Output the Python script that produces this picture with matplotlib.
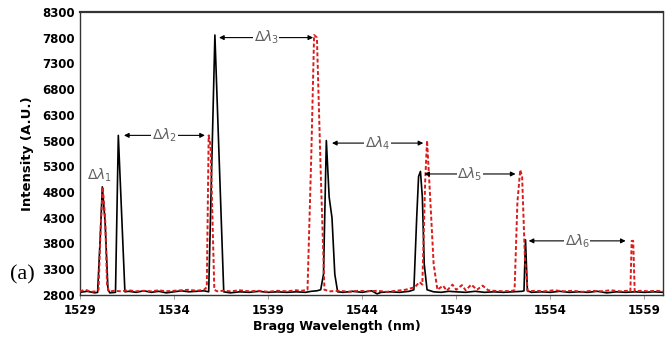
import matplotlib
matplotlib.use("Agg")
import matplotlib.pyplot as plt

# black (solid) spectrum
black_wl = [1529.0, 1529.4, 1529.8, 1529.95, 1530.1, 1530.2, 1530.35, 1530.5, 1530.6,
            1530.9, 1531.05, 1531.4,
            1531.6, 1532.0, 1532.4, 1532.8, 1533.2, 1533.6, 1534.0, 1534.4, 1534.8,
            1535.2, 1535.6, 1535.85, 1536.18, 1536.65,
            1537.0, 1537.5, 1538.0, 1538.5, 1539.0, 1539.5, 1540.0, 1540.5, 1541.0,
            1541.3, 1541.6, 1541.8, 1541.95, 1542.1, 1542.25, 1542.4, 1542.55, 1542.7,
            1543.0, 1543.5, 1544.0, 1544.5, 1544.8, 1545.0, 1545.5, 1546.0, 1546.5,
            1546.75, 1546.9, 1547.0, 1547.1, 1547.2, 1547.3, 1547.45,
            1547.8, 1548.2, 1548.6, 1549.0, 1549.5, 1550.0, 1550.5, 1551.0, 1551.5,
            1552.0, 1552.5, 1552.6, 1552.68, 1552.78,
            1553.0, 1553.5, 1554.0, 1554.5, 1555.0, 1555.5, 1556.0, 1556.5, 1557.0,
            1557.5, 1558.0, 1558.5, 1559.0, 1559.5, 1560.0]
black_int = [2850, 2870, 2840, 2850, 4000, 4900, 4200, 2900, 2840,
             2850, 5900, 2860,
             2870, 2850, 2880, 2850, 2870, 2840, 2860, 2880, 2860,
             2870, 2880, 2860, 7850, 2860,
             2840, 2860, 2850, 2870, 2850, 2860, 2850, 2860, 2850,
             2870, 2880, 2900, 3200, 5800, 4700, 4300, 3200, 2860,
             2850, 2870, 2850, 2880, 2820, 2850, 2860, 2850, 2870,
             2900, 4300, 5100, 5200, 4700, 3400, 2900,
             2860, 2850, 2870, 2860, 2850, 2870, 2850, 2860, 2850,
             2860, 2870, 2880, 3870, 2880,
             2850, 2860, 2850, 2870, 2850, 2860, 2850, 2870, 2840,
             2860, 2850, 2860, 2850, 2860, 2850]

# red (dashed) spectrum
red_wl = [1529.0, 1529.3, 1529.6, 1529.9, 1530.0, 1530.1, 1530.22, 1530.35, 1530.45, 1530.55,
          1530.8, 1531.2, 1531.6, 1532.0, 1532.4, 1532.8, 1533.2, 1533.6, 1534.0, 1534.4,
          1534.8, 1535.2, 1535.6, 1535.75, 1535.85, 1535.95, 1536.15, 1536.3,
          1536.6, 1537.0, 1537.5, 1538.0, 1538.5, 1539.0, 1539.5, 1540.0, 1540.5, 1540.8,
          1541.1, 1541.3, 1541.45, 1541.6, 1541.8, 1542.0,
          1542.3, 1542.8, 1543.3, 1543.8, 1544.3, 1544.8, 1545.3, 1545.8, 1546.3, 1546.8, 1547.05,
          1547.2, 1547.35, 1547.45, 1547.6, 1547.8, 1548.0,
          1548.3, 1548.5, 1548.8, 1549.0, 1549.3, 1549.5, 1549.8, 1550.1, 1550.4, 1550.7,
          1551.0, 1551.5, 1552.0,
          1552.1, 1552.25, 1552.4, 1552.5, 1552.65, 1552.8,
          1553.2, 1553.7, 1554.2, 1554.7, 1555.2, 1555.7, 1556.2, 1556.7, 1557.2, 1557.7, 1558.1,
          1558.25, 1558.32, 1558.4, 1558.48,
          1558.8, 1559.2, 1559.6, 1560.0]
red_int = [2870, 2900, 2860, 2870, 2900, 4000, 4900, 4300, 3000, 2860,
           2880, 2870, 2890, 2870, 2880, 2870, 2890, 2870, 2880, 2890,
           2900, 2880, 2900, 2950, 5900, 5700, 2900, 2870,
           2880, 2870, 2890, 2870, 2880, 2860, 2880, 2870, 2890, 2880,
           2900, 5500, 7850, 7800, 5200, 2900,
           2870, 2880, 2860, 2880, 2870, 2880, 2860, 2880, 2900, 2950, 3050,
           3000, 5000, 5800, 4800, 3400, 2900,
           2980, 2880, 3000, 2900, 2990, 2890, 3000, 2900, 2980, 2890,
           2880, 2870, 2880,
           2900, 4600, 5230, 5100, 3500, 2870,
           2880, 2870, 2890, 2870, 2880, 2860, 2880, 2870, 2890, 2870, 2880,
           2870, 3850, 3850, 2870,
           2880, 2870, 2880, 2870]

# shift annotations: label, start, end, height
delta_labels = [r"$\Delta\lambda_2$", r"$\Delta\lambda_3$", r"$\Delta\lambda_4$",
                r"$\Delta\lambda_5$", r"$\Delta\lambda_6$"]
delta_start = [1531.35, 1536.4, 1542.4, 1547.3, 1552.85]
delta_end = [1535.65, 1541.4, 1547.25, 1552.15, 1558.0]
delta_y = [5900, 7800, 5750, 5150, 3850]

x_ticks = [1529, 1534, 1539, 1544, 1549, 1554, 1559]
y_ticks = list(range(2800, 8301, 500))

fig = plt.figure(figsize=(6.7, 3.49), dpi=100)
ax = fig.add_axes([0.119, 0.155, 0.871, 0.811])

ax.plot(black_wl, black_int, color="black", lw=1.2, zorder=2)
ax.plot(red_wl, red_int, color="#d91c1c", lw=1.4, ls=(0, (2, 1.2)), zorder=3)

gray = "#606060"
for lab, x0, x1, y in zip(delta_labels, delta_start, delta_end, delta_y):
    ax.annotate("", xy=(x0, y), xytext=(x1, y),
                arrowprops=dict(arrowstyle="<|-|>", color="black", lw=0.8,
                                mutation_scale=7, shrinkA=0, shrinkB=0))
    ax.text((x0 + x1) / 2, y, lab, color=gray, fontsize=10, ha="center", va="center",
            bbox=dict(facecolor="white", edgecolor="none", pad=0.5), zorder=4)
ax.text(1530.05, 5130, r"$\Delta\lambda_1$", color=gray, fontsize=10, ha="center", va="center")

ax.set_xlim(1529, 1560)
ax.set_ylim(2800, 8300)
ax.set_xticks(x_ticks)
ax.set_yticks(y_ticks)
ax.tick_params(axis="both", labelsize=8.5, length=3, color="#888888", width=0.6)
ax.tick_params(axis="y", length=0)
for lbl in ax.get_xticklabels() + ax.get_yticklabels():
    lbl.set_fontweight("bold")
for s in ax.spines.values():
    s.set_linewidth(1.0)
    s.set_color("#333333")
ax.spines["top"].set_linewidth(1.6)

ax.set_xlabel("Bragg Wavelength (nm)", fontsize=9, fontweight="bold", labelpad=5)
ax.xaxis.set_label_coords(0.44, -0.09)
ax.set_ylabel("Intensity (A.U.)", fontsize=9.5, fontweight="bold", labelpad=6)

fig.text(0.015, 0.2, "(a)", family="Liberation Serif", fontsize=16)

fig.savefig("out.png", dpi=100)
